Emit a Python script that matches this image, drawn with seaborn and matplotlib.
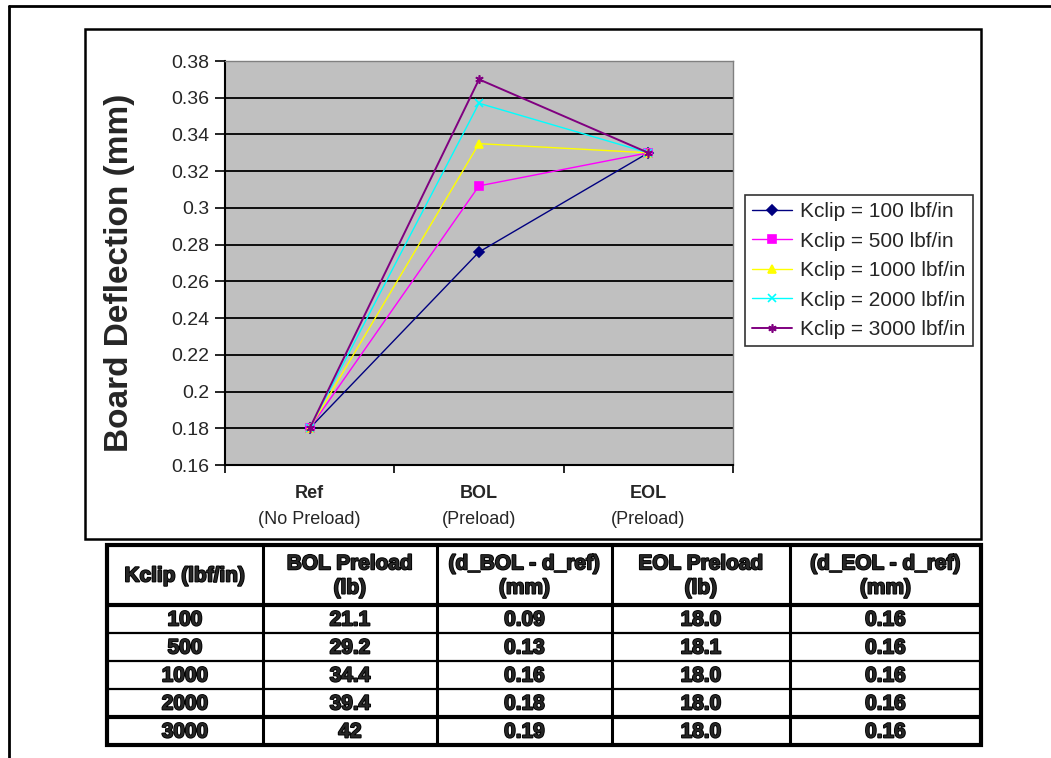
import numpy as np
import pandas as pd
import matplotlib
matplotlib.use("Agg")
import matplotlib.pyplot as plt
from matplotlib.ticker import MultipleLocator, FixedLocator, FuncFormatter
from matplotlib.lines import Line2D
from matplotlib.patches import Rectangle
import matplotlib.patheffects as pe
import matplotlib.transforms as mtrans
import seaborn as sns

# --- data ---
stages = ["Ref", "BOL", "EOL"]
stage_notes = ["(No Preload)", "(Preload)", "(Preload)"]
kclip = [100, 500, 1000, 2000, 3000]
series_names = [f"Kclip = {k} lbf/in" for k in kclip]
ref_defl = [0.180, 0.180, 0.180, 0.180, 0.180]
bol_defl = [0.276, 0.312, 0.335, 0.357, 0.370]
eol_defl = [0.330, 0.330, 0.330, 0.330, 0.330]
colors = ["#000080", "#FF00FF", "#FFFF00", "#00FFFF", "#800080"]
markers = ["D", "s", "^", "x", (6, 2, 0)]

table_header = ["Kclip (lbf/in)", "BOL Preload\n(lb)", "(d_BOL - d_ref)\n(mm)",
                "EOL Preload\n(lb)", "(d_EOL - d_ref)\n(mm)"]
table_kclip = ["100", "500", "1000", "2000", "3000"]
table_bol_preload = ["21.1", "29.2", "34.4", "39.4", "42"]
table_bol_delta = ["0.09", "0.13", "0.16", "0.18", "0.19"]
table_eol_preload = ["18.0", "18.1", "18.0", "18.0", "18.0"]
table_eol_delta = ["0.16", "0.16", "0.16", "0.16", "0.16"]

rows = []
for name, r, b, e in zip(series_names, ref_defl, bol_defl, eol_defl):
    for i, v in enumerate([r, b, e]):
        rows.append((name, i, v))
df = pd.DataFrame(rows, columns=["series", "pos", "defl"])

sns.set_theme(style="white")
plt.rcParams["font.family"] = ["Liberation Sans", "DejaVu Sans"]

W, H = 1051, 758
fig = plt.figure(figsize=(W / 100, H / 100), dpi=100)
fig.patch.set_facecolor("white")

# outer frame (left + top only) and chart box
fig.add_artist(Line2D([9 / W, 9 / W], [0, 1 - 6 / H], transform=fig.transFigure, color="black", lw=2))
fig.add_artist(Line2D([9 / W, 1], [1 - 6 / H, 1 - 6 / H], transform=fig.transFigure, color="black", lw=2))
fig.add_artist(Rectangle((85 / W, 1 - 539 / H), 896 / W, 510 / H, transform=fig.transFigure,
                         fill=False, ec="black", lw=1.8))

ax = fig.add_axes([225 / W, 1 - 465 / H, 508 / W, 404 / H])
ax.set_facecolor("#C0C0C0")

sns.lineplot(data=df, x="pos", y="defl", hue="series", hue_order=series_names,
             palette=dict(zip(series_names, colors)), sort=False, legend=False,
             linewidth=1, ax=ax)

for line, m, c, name in zip(ax.lines, markers, colors, series_names):
    line.set_marker(m)
    line.set_markersize(5.5 if m == "D" else 6)
    line.set_markerfacecolor(c)
    line.set_markeredgecolor(c)
    line.set_markeredgewidth(1.2)
    line.set_label(name)
    line.set_zorder(3)
ax.lines[-1].set_linewidth(1.4)

ax.set_xlim(-0.5, 2.5)
ax.set_ylim(0.16, 0.38)
ax.yaxis.set_major_locator(MultipleLocator(0.02))
ax.yaxis.set_major_formatter(FuncFormatter(lambda v, p: f"{round(v, 2):g}"))
ax.grid(axis="y", color="black", lw=1.3)
ax.grid(axis="x", visible=False)
ax.set_axisbelow(True)

ax.tick_params(axis="y", which="major", direction="out", length=7, width=1.2, color="black",
               pad=4, labelsize=14, left=True)
ax.set_xticks(range(len(stages)))
ax.set_xticklabels([])
ax.tick_params(axis="x", which="major", length=0)
ax.xaxis.set_minor_locator(FixedLocator([-0.5, 0.5, 1.5, 2.5]))
ax.tick_params(axis="x", which="minor", direction="out", length=6, width=1.2, color="black", bottom=True)

trans = mtrans.blended_transform_factory(ax.transData, ax.transAxes)
for i, (s, note) in enumerate(zip(stages, stage_notes)):
    ax.text(i, -28 / 404, s, transform=trans, ha="center", va="center", fontsize=13, fontweight="bold")
    ax.text(i, -54 / 404, note, transform=trans, ha="center", va="center", fontsize=13)

for side in ["left", "bottom"]:
    ax.spines[side].set_color("black")
    ax.spines[side].set_linewidth(1.5)
for side in ["top", "right"]:
    ax.spines[side].set_color("#808080")
    ax.spines[side].set_linewidth(1)

ax.set_xlabel("")
ax.set_ylabel("Board Deflection (mm)", fontsize=24, fontweight="bold")
ax.yaxis.set_label_coords(-90 / 508, 0.475)

leg = fig.legend(handles=ax.lines[:5], labels=series_names, loc="upper left",
                 bbox_to_anchor=(745 / W, 1 - 195 / H), bbox_transform=fig.transFigure,
                 fontsize=15, frameon=True, fancybox=False, borderaxespad=0,
                 handlelength=1.9, handletextpad=0.4, labelspacing=0.5,
                 borderpad=0.35, markerscale=1.0)
leg.get_frame().set_edgecolor("black")
leg.get_frame().set_linewidth(1.2)

# --- data table under the chart ---
tax = fig.add_axes([107 / W, 1 - 745 / H, 874 / W, 200 / H])
tax.set_xlim(0, 874)
tax.set_ylim(200, 0)
tax.axis("off")
col_edges = [0, 156, 330, 505, 683, 874]
row_edges = [0, 60, 88, 116, 144, 172, 200]
tax.add_patch(Rectangle((0, 0), 874, 200, fill=False, ec="black", lw=3, clip_on=False))
for x in col_edges[1:-1]:
    tax.plot([x, x], [0, 200], color="black", lw=2.2, clip_on=False)
for y in row_edges[1:-1]:
    thick = 3 if y in (60, 172) else 1.6
    tax.plot([0, 874], [y, y], color="black", lw=thick, clip_on=False)

fat = [pe.withStroke(linewidth=1.3, foreground="black")]
for c, h in enumerate(table_header):
    cx = (col_edges[c] + col_edges[c + 1]) / 2
    tax.text(cx, 31, h, ha="center", va="center", fontsize=15, fontweight="bold",
             linespacing=1.35, path_effects=fat)
columns = [table_kclip, table_bol_preload, table_bol_delta, table_eol_preload, table_eol_delta]
for c, col in enumerate(columns):
    cx = (col_edges[c] + col_edges[c + 1]) / 2
    for r, val in enumerate(col):
        cy = (row_edges[r + 1] + row_edges[r + 2]) / 2
        tax.text(cx, cy + 1, val, ha="center", va="center", fontsize=15, fontweight="bold",
                 path_effects=fat)

fig.savefig("out.png", dpi=100)
